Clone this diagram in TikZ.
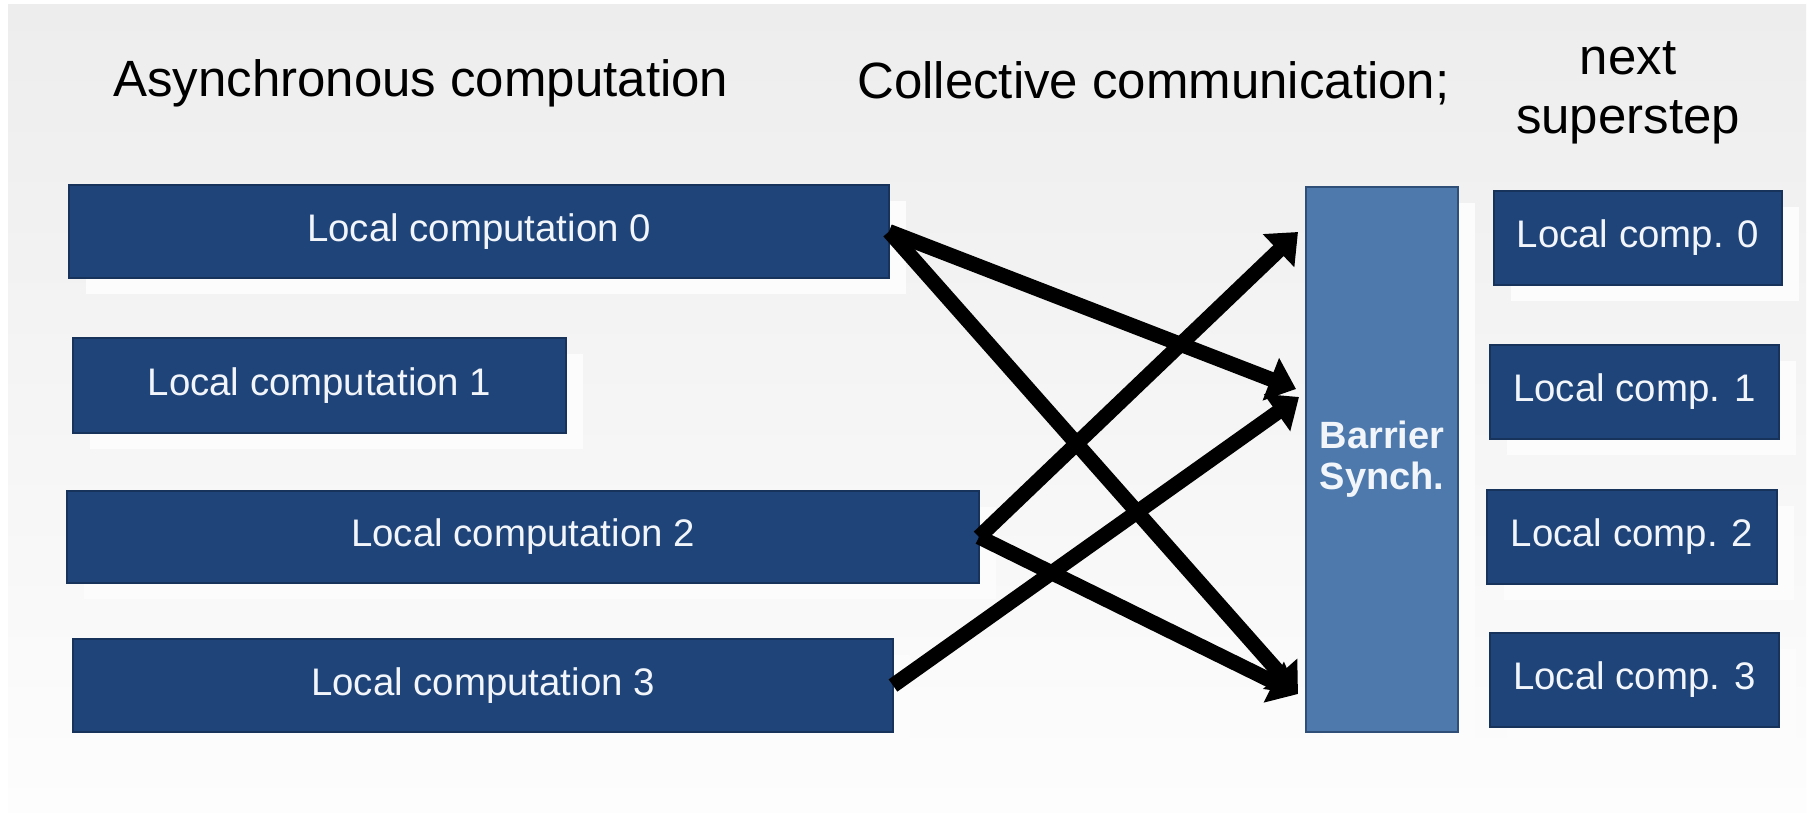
\documentclass[tikz,border=0pt]{standalone}
\usepackage{fontspec}
\setmainfont{Liberation Sans}
\usetikzlibrary{arrows.meta,shadows}

\definecolor{boxblue}{HTML}{1F4479}
\definecolor{boxedge}{HTML}{17335C}
\definecolor{barblue}{HTML}{4E79AD}
\definecolor{baredge}{HTML}{2F4F78}
\definecolor{labelwhite}{HTML}{F2F6FB}
\definecolor{paneltop}{HTML}{EDEDED}
\definecolor{panelbottom}{HTML}{FDFDFD}

\begin{document}
\begin{tikzpicture}[x=1pt,y=-1pt,
  glow/.style={general shadow={fill=white!85!paneltop, shadow xshift=17pt, shadow yshift=-16pt}},
  comp/.style={draw=boxedge, line width=1.2pt, fill=boxblue, text=labelwhite,
    inner sep=0pt, outer sep=0pt, glow, font=\fontsize{38.4}{46}\selectfont},
  barrier/.style={comp, fill=barblue, draw=baredge, align=center,
    font=\bfseries\fontsize{38}{41}\selectfont},
  heading/.style={font=\fontsize{51}{60}\selectfont, text=black, inner sep=0pt, anchor=base west},
  msg/.style={line width=15pt, black, -{Triangle[length=27pt,width=44pt]}}
]
% canvas and slide panel
\useasboundingbox (0,0) rectangle (1811,813);
\fill[white] (0,0) rectangle (1811,813);
\shade[top color=paneltop, bottom color=panelbottom] (8,5) rectangle (1806,813);

% column headings
\node[heading] (async) at (113,97) {Asynchronous computation};
\node[heading] (coll) at (857,99) {Collective communication;};
\node[heading, anchor=base] (next) at (1628,75) {next};
\node[heading, anchor=base] (super) at (1628,134) {superstep};

% local computations of the current superstep
\node[comp, minimum width=820pt, minimum height=93pt] (b0) at (479,231.5) {Local computation 0};
\node[comp, minimum width=493pt, minimum height=95pt] (b1) at (319.5,385.5) {Local computation 1};
\node[comp, minimum width=912pt, minimum height=92pt] (b2) at (523,537) {Local computation 2};
\node[comp, minimum width=820pt, minimum height=93pt] (b3) at (483,685.5) {Local computation 3};

% barrier
\node[barrier, minimum width=152pt, minimum height=545pt] (bar) at (1382,459.5) {Barrier\\Synch.};

% local computations of the next superstep
\node[comp, minimum width=288pt, minimum height=94pt] (r0) at (1638,238) {Local comp. 0};
\node[comp, minimum width=289pt, minimum height=94pt] (r1) at (1634.5,392) {Local comp. 1};
\node[comp, minimum width=290pt, minimum height=94pt] (r2) at (1632,537) {Local comp. 2};
\node[comp, minimum width=289pt, minimum height=94pt] (r3) at (1634.5,680) {Local comp. 3};

% message targets in front of the barrier
\coordinate (t0) at (1298,232);
\coordinate (t1) at (1296,389);
\coordinate (t1b) at (1299,397);
\coordinate (t2) at (1298,694);

% communication
\draw[msg] (b0.east) -- (t1);
\draw[msg] (b0.east) -- (t2);
\draw[msg] (b2.east) -- (t0);
\draw[msg] (b2.east) -- (t2);
\draw[msg] (b3.east) -- (t1b);
\end{tikzpicture}
\end{document}
